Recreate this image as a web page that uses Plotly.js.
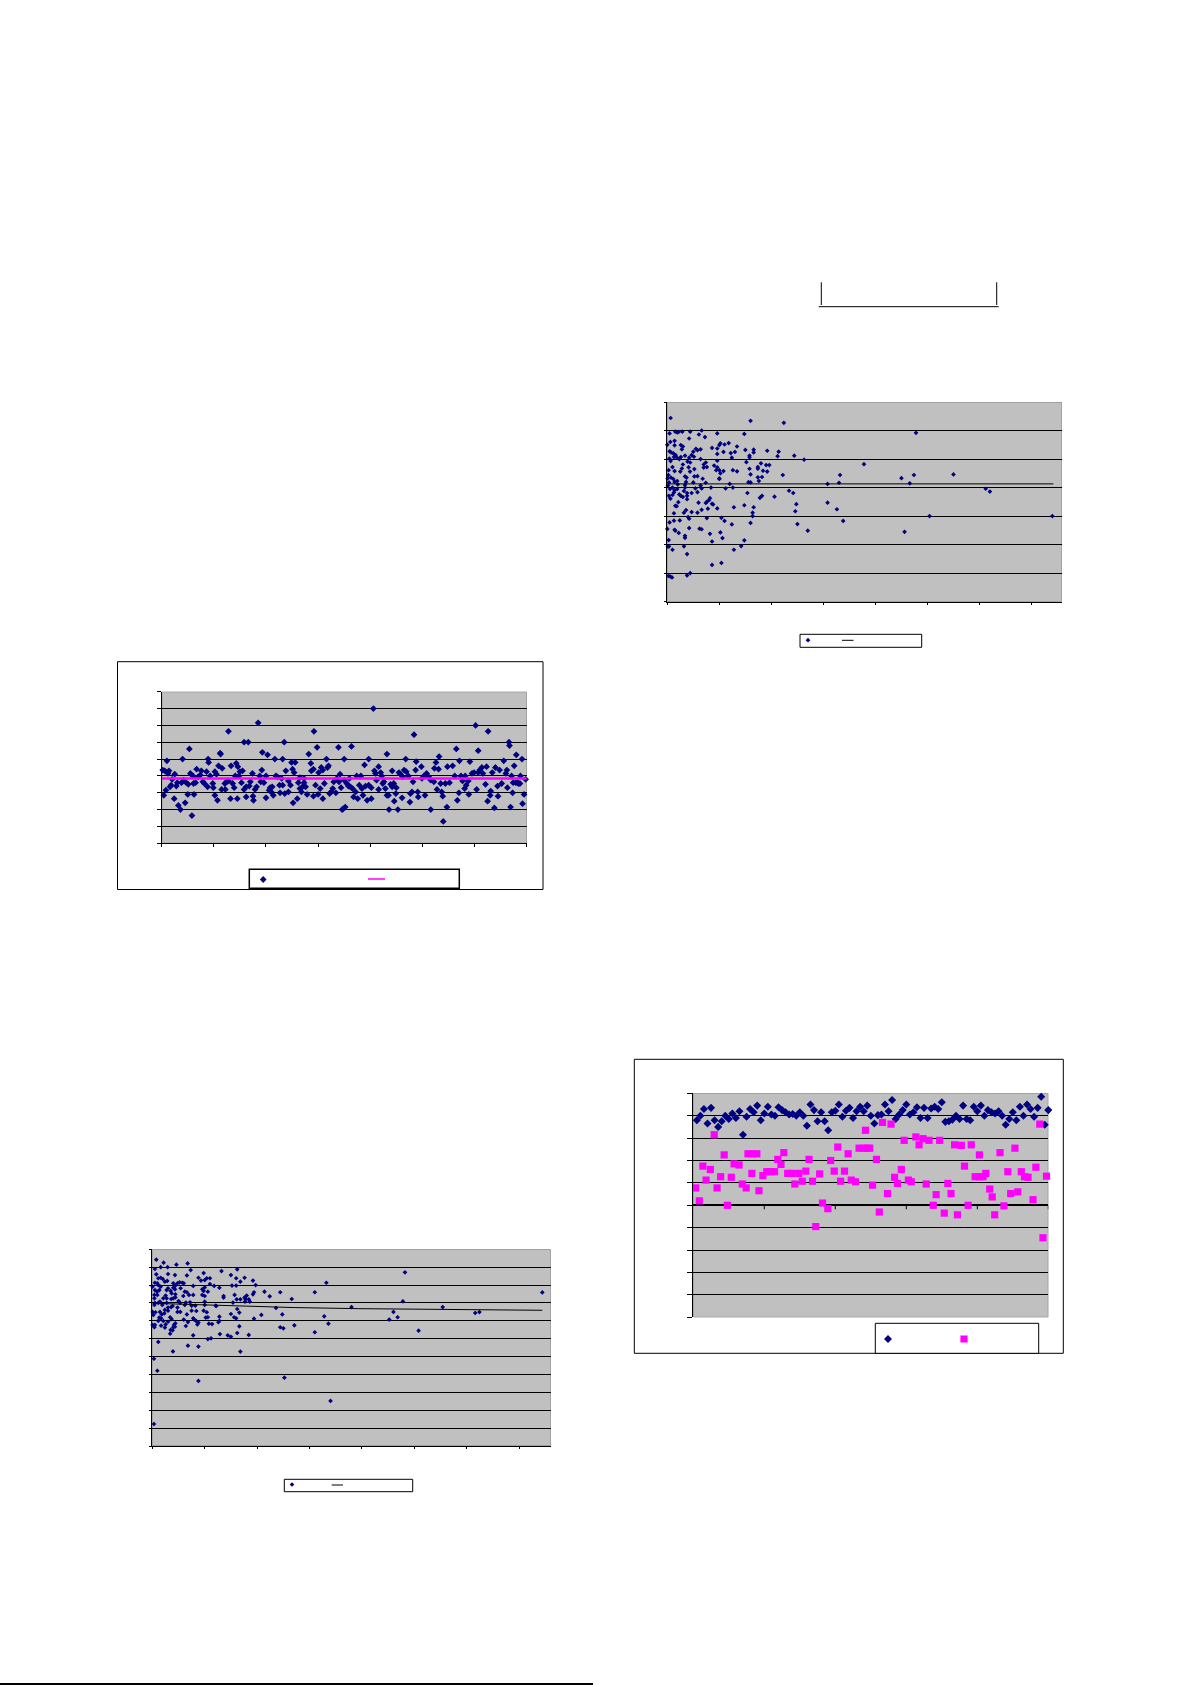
<!DOCTYPE html>
<html><head><meta charset="utf-8">
<script src="https://cdn.plot.ly/plotly-3.0.1.min.js"></script>
<style>html,body{margin:0;padding:0;background:#fff}</style></head>
<body><div id="chart" style="width:1191px;height:1685px"></div>
<script>
// Chart A (left, middle of page): observation number against value
const aX=[1,2,3,4,5,6,7,8,9,10,12,12.5,14,15,16,18,19,20,21,22.5,23.5,25,25.5,26.5,27.5,29,30,30.5,31,32.5,33.5,35,37,38,39.5,41,43,44,44.5,45,46.5,49,49.5,51,51,52.5,53.5,54.5,56,56.5,58,57.5,60.5,61,62.5,64,64,66,66.5,68,69.5,70.5,71.5,72.5,73,74,75,76.5,77.5,79,79,81,81,83,84,85,87,87.5,88,89.5,91,92.5,94,95,96,96.5,98,100,100,101.5,103,104,105,106,107,108.5,109.5,111,113,113.5,116,115,116,117.5,118,119,121.5,121.5,123.5,124.5,125.5,126,127,128,130,131,132.5,132.5,134,135,136.5,136.5,138,139.5,141,143,143.5,145.5,145.5,146,147.5,149,150,150.5,152,153,154.5,154.5,156,158,159,160,161,162.5,164,165,167,168,169.5,170,171,172,173,174,175,175,176,177.5,179,180,182,181,183,184,186,187,188,189.5,191,192,193,194.5,195.5,197,198.5,198.5,201,201,203,204,205,206,208,208,210,211,212,213,214.5,216,216,218,217.5,219.5,221,221,222.5,223,224.5,225,226.5,227.5,229,230.5,231,232.5,234,234.5,236.5,238,238.5,240,241,242,243.5,244,245.5,246,249,249.5,252.5,251.5,254,256,258,258,261,261.5,263,264,265.5,266,267.5,268.5,269.5,270,272,273.5,274,276,279,281,282.5,283.5,285,285.5,287,288.5,290.5,291,292,294,294.5,295.5,297.5,299.5,301,302,303.5,303.5,305,307,308,310.5,311.5,312.5,313,315,315.5,317,319,320,322,322.5,324,326,328,330,331,331.5,333,333.5,334.5,335.5,336.5,338,337,340,339.5,341,342,343.5,344,345.5,346,347.5,349];
const aY=[4.35,2.85,4.3,3.15,4.9,4.15,4.3,3.35,3.45,3.8,2.65,4.1,3.4,3.6,2.25,2,3.6,5,3.75,2.4,3.6,2.9,3.5,5.6,4.15,1.65,4,3.55,2.9,3.6,4.4,3.95,4.05,4.3,3.65,3.55,4.25,3.35,5,4.8,4,3.55,3.3,4.25,2.85,4.1,2.55,4.6,5.35,5.3,4.45,3.2,3.55,3.2,3.65,6.65,3.7,2.65,4.6,3.55,3.3,4,4.75,2.65,4.55,4,4.25,3.6,4.3,6,3.2,2.75,3.35,6,3.4,3.65,4.15,2.8,2.55,3.2,3.35,7.15,4,3.65,4.35,5.4,3.6,4,2.7,5.25,3.15,3.3,3.05,3.35,2.85,5,4,3.95,3.45,3,5,3.85,3.45,6,2.95,4.3,3.05,3.7,3.45,4.8,4.4,2.4,4.2,4.8,2.65,3.6,3.9,3.25,3.05,3.35,3.85,3.6,3.35,2.9,5.3,4.75,4.3,2.8,4.4,6.65,3.45,5.7,2.9,4.2,3.25,4.5,4.35,2.65,3.55,5,4.5,4.6,2.95,3.05,3.25,3.65,3,3.85,5.7,3.65,4.1,3.3,2,2.05,5,3.75,2.15,3.55,3.4,3.85,5.75,3.35,3.25,2.75,3.05,4,2.65,3.45,4,3.25,2.85,4.65,3.4,2.55,5,3.45,2.65,3.3,8,4.3,4.15,3.75,4.55,3.2,4.2,4,3.55,3.65,3.25,5.3,2.85,2,2.85,3.5,4.3,3.35,3.55,2.5,2.95,3.3,2,4.2,4.1,2.7,3.95,4.35,5,4.25,4,2.45,2.95,3.05,3.65,6.45,4.35,4.85,3.05,2.75,4.55,3.85,2.85,4,4.15,3.95,2,3.75,3.65,4.45,4.8,3.2,4.4,5.15,3.55,3.05,2.8,1.3,3.55,2.15,4.55,3.6,4.6,4,5.6,2.55,3,4.9,4,3.7,3.25,4,3.45,3.7,2.9,4.85,4.15,4.2,7,3.2,5.5,4.2,4.35,4.5,4.15,3.5,4.55,2.5,6.65,2.85,3.1,4.2,2.1,4.5,3.4,2.8,4.35,3.55,4.9,4.15,4.35,3.3,6,5.8,2.15,4,3,4.6,3.6,5.25,3.6,3.6,3.55,3.55,4,5,2.35,2.9,3.8];
const aLineX=[0,350];
const aLineY=[3.85,3.85];

// Chart B (right, top of page)
const bX=[3.2,80,112,2.2,7.7,9.6,10.9,14.4,22,33,30.4,36.2,48,21,74,2.9,7,0,7,13,15,14,2.2,3.8,5.8,27.5,29,32,25,23.4,43,48,50,51,55,59,67,54,61,65,48,75,83,83,79,79,96,107,106,122,131.5,62,2,8,6.4,9.3,3.2,11.5,13,17,21,25.6,32,19.5,22,15,14,5,12.5,7,1.3,20.5,21.8,26,35,37,38,35,45,48,48,47,50,54,51,63,67,76,79,80,87,87,90,95,98,92,96,111,166,189,225,237,275,1,0.3,3.5,5.8,1.6,7,9.5,17,18.5,26,29,34,18,25,37,10,17,0.6,32,42,60,50,50,87,91,78,80,88,154,165,233,56,63,17,5,2.6,7,9.5,27,33,29,6.4,16,19,23.4,1.6,5,11.5,13,19,15,3,19,117,121,77,91,89,103,306,310,10.6,7.7,9,30,41,40,38,37,43,44,124,154,74,83,64,48,39,33,163,18,23.4,16,29,6.4,82,123,20,21,38,52,82,252,12,6.4,2.2,55,80,62,125,169,21,31,33,7,7.7,0,11,135,51,41,17,17,53,228,1.3,43,74,0.6,1.6,16,71,5,64,19,43,52,22,19,1,2.6,4.5,370,239];
const bY=[6.44,6.34,6.27,5.9,5.96,5.93,5.95,5.96,5.96,6,5.86,5.77,5.9,5.72,5.88,5.6,5.64,5.5,5.48,5.49,5.44,5.34,5.27,5.23,5.2,5.36,5.31,5.34,5.26,5.14,5.39,5.37,5.49,5.55,5.51,5.56,5.44,5.25,5.21,5.25,5.18,5.32,5.33,5.23,5.12,5.06,5.29,5.26,5.1,5.12,4.98,5.05,5.02,5.14,5.07,5.05,4.93,5,5.07,5.12,5.05,5.08,5,4.91,4.88,4.81,4.67,4.72,4.56,4.58,4.61,4.71,4.56,4.65,4.81,4.88,4.72,4.7,4.77,4.94,4.71,4.61,4.61,4.58,4.5,4.61,4.57,4.89,4.66,4.46,4.72,4.66,4.85,4.79,4.79,4.59,4.56,4.44,4.44,4.82,4.33,4.44,4.46,4.44,4.32,4.35,4.3,4.18,4.2,4.23,4.39,4.35,4.39,4.4,4.31,4.2,4.18,4.17,4.11,4.09,4.07,4.07,4,4.13,4.3,4.32,4.36,4.37,4.19,4.18,4.23,4.13,4.17,4.15,3.97,4,4,4,3.95,3.91,3.95,3.97,3.97,3.84,3.83,3.88,3.81,3.81,3.71,3.74,3.76,3.71,3.71,3.67,3.61,3.59,3.89,3.81,3.81,3.71,3.64,3.68,3.96,3.86,3.49,3.36,3.35,3.47,3.63,3.56,3.5,3.46,3.43,3.41,3.42,3.47,3.38,3.31,3.31,3.27,3.26,3.22,3.24,3.21,3.14,3.12,3.12,3.1,3.12,3.17,2.97,2.91,2.93,2.94,3,3,2.85,2.84,2.78,2.83,2.76,2.71,2.72,2.83,2.58,2.56,2.54,2.52,2.49,2.55,2.41,2.49,2.43,2.38,2.31,2.24,2.23,2.45,2.16,2.11,2.15,1.93,1.94,1.94,1.95,1.82,1.82,1.67,1.29,1.36,1,0.92,0.9,0.89,0.85,3,5.92];
const bLineX=[0,371];
const bLineY=[4.13,4.13];

// Chart C (left, bottom of page)
const cX=[3.8,10.8,23,33.7,2.5,8,14.6,36.6,81,66,3.8,15,21.6,33,49,75,80,88,241,5.7,8,10,44,46.4,50,52,55,84,96,2.5,4.8,12,14.3,20,24,26,28.6,30,55,166,0.3,5.7,8,15,20,22,27,39,50,59,64,76,80,98.6,2.5,4.5,6.7,13.7,17.5,21.6,31,33,47.7,53,49,107,122,155,97,96,2,4.8,12.7,18.4,22,29.6,35,39,47.7,50,68,78.5,90,112,2,10.5,13.7,20,22,18,68,80.5,84,89,92,88,133,2.5,7.3,13.7,25,32,36,50,77,88.4,93,239,2,5.7,9.5,26.5,31,37.5,41,50,60.5,19.4,15,18,24,118,190,277,81,12,0.3,3,7.3,15,24,26.7,37.5,42,49,52,1,9,11.5,33,61,83,75,124,104,230,312,308,164,234,6.7,8.4,17,39,18.4,30,51,53,64,78,80,97,226,5.7,10.5,15,34,40,41.7,64,63,44,54,57,0.3,2.5,12.7,8.4,22,20.7,32,43,83,135.5,168,2,12,20,21.6,17.5,19.4,122,125,155,254,17,64.5,81,39,72,75,92,53,56,5.7,34,44,19.7,84,1.6,4.8,126,44,170,1.6,372];
const cY=[10.42,10.25,10.14,10.21,9.9,10,10,9.84,9.88,9.78,9.6,9.62,9.56,9.54,9.67,9.56,9.38,9.41,9.71,9.38,9.41,9.34,9.41,9.25,9.28,9.38,9.38,9.19,9.25,9.13,9.1,9.19,9.23,9.1,9.1,9.15,9.13,9.1,9.06,9.13,8.91,9,8.91,8.82,8.85,8.97,8.82,8.95,8.87,8.95,8.85,8.97,8.97,9,8.72,8.63,8.72,8.72,8.67,8.76,8.63,8.6,8.76,8.63,8.67,8.63,8.6,8.6,8.6,8.48,8.45,8.45,8.41,8.54,8.48,8.39,8.45,8.45,8.45,8.39,8.39,8.45,8.41,8.37,8.26,8.26,8.26,8.26,8.31,8.22,8.3,8.2,8.2,8.2,8.2,8.3,8.22,8,8.07,8,8.11,8.02,8.04,8.07,8.02,8.07,8.07,8.09,7.89,8,7.89,8,7.89,7.85,7.85,7.89,7.85,7.83,7.74,7.77,7.74,7.72,7.77,7.77,7.66,7.61,7.5,7.48,7.5,7.57,7.5,7.5,7.57,7.55,7.57,7.48,7.33,7.36,7.42,7.36,7.83,7.46,7.38,7.36,7.33,7.5,7.49,7.44,7.25,7.2,7.18,7.14,7.2,7.14,7.1,7.07,7.18,7.2,7.23,7.2,7.14,7.12,7.07,7,6.99,6.95,6.93,7.07,7,7,6.92,6.9,6.84,6.82,6.77,6.77,6.8,6.73,6.86,6.77,6.71,6.8,6.69,6.75,6.84,6.64,6.62,6.64,6.67,6.49,6.47,6.64,6.58,6.36,6.45,6.28,6.26,6.32,6.19,6.19,6.11,6.21,5.98,6.02,5.82,5.61,5.56,5.29,5.28,4.88,4.21,3.82,3.64,2.52,1.23,8.59];
const cLineX=[0,22,95,136,197,292,356,372];
const cLineY=[7.98,7.94,7.79,7.74,7.68,7.62,7.59,7.59];

// Chart D (right, bottom of page)
const dBlueX=[1,2,3,4,5,6,7,8,9,10,11,12,13,14,15,16,17,18,19,20,21,22,23,24,25,26,27,28,29,30,31,32,33,34,35,36,37,38,39,40,41,42,43,44,45,46,47,48,49,50,51,52,53,54,55,56,57,58,59,60,61,62,63,64,65,66,67,68,69,70,71,72,73,74,75,76,77,78,79,80,81,82,83,84,85,86,87,88,89,90,91,92,93,94,95,96,97,98,99,100];
const dBlueY=[.76,.8,.86,.73,.87,.76,.7,.75,.8,.77,.82,.78,.84,.63,.79,.86,.83,.89,.76,.82,.88,.81,.8,.875,.85,.83,.81,.815,.8,.83,.8,.71,.9,.85,.75,.83,.75,.67,.83,.845,.9,.79,.845,.87,.78,.84,.88,.84,.89,.8,.73,.805,.81,.9,.84,.94,.77,.81,.85,.9,.81,.83,.875,.78,.87,.78,.865,.88,.86,.92,.745,.75,.765,.8,.77,.89,.77,.76,.88,.84,.89,.8,.85,.83,.82,.84,.8,.72,.77,.83,.76,.88,.8,.9,.86,.79,.87,.97,.72,.85];
const dPinkX=[.7,1.7,2.7,3.6,4.8,5.9,6.7,7.7,8.7,9.6,10.7,11.5,12.9,13.8,14.9,15.4,16.6,17.9,16.5,18.5,19.6,20.7,21.8,22.9,23.8,24.7,25.5,26.6,27.7,28.6,29.7,30.7,31.7,32.6,33.6,34.5,35.6,36.4,37.9,38.7,39.7,40.7,41.5,42.6,43.6,44.5,45.7,46.7,47.9,49,48.5,49.7,50.5,51.6,52.4,53.3,54.7,55.7,56.7,57.5,58.6,59.4,60.6,61.4,62.7,63.6,64.7,65.6,66.4,67.6,68.4,69.4,70.7,71.7,72.6,73.6,74.4,75.5,76.4,77.4,78.3,79.4,80.6,80.6,81.6,82.4,83.5,84.2,84.9,86.4,87.5,88.6,89.4,90.6,91.4,92.4,93.3,94.3,95.7,96.5,97.6,98.5,99.5];
const dPinkY=[.155,.04,.35,.225,.32,.63,.155,.255,.45,0,.25,.37,.36,.19,.155,.46,.46,.46,.285,.13,.265,.3,.3,.3,.41,.365,.47,.285,.285,.19,.285,.215,.305,.41,.215,-.19,.28,.02,-.03,.4,.305,.52,.215,.305,.46,.225,.21,.51,.51,.51,.67,.51,.18,.41,-.06,.74,.105,.725,.25,.195,.32,.58,.225,.21,.61,.54,.595,.19,.58,0,.095,.58,-.07,.195,.105,.54,-.085,.535,.35,0,.54,.255,.45,.255,.255,.285,.145,.075,-.085,.47,-.005,.3,.105,.51,.12,.3,.255,.25,.05,.34,.725,-.29,.26];
const dTicks=[20,40,60,80,100];

const W=1191,H=1685;
const NAVY='#000080',PINK='#ff00ff',GREY='#c0c0c0',EDGE='#808080';
const px=x=>x/W, py=y=>1-y/H;
function xAxis(l,r,range,dtick,line,anchor,tl){return {anchor:anchor,domain:[px(l),px(r)],range:range,dtick:dtick,tick0:0,showticklabels:false,showgrid:false,zeroline:false,showline:line,linecolor:'#000',linewidth:1,ticks:line?'outside':'',ticklen:tl,tickcolor:'#000',tickwidth:1,fixedrange:true};}
function yAxis(t,b,range,dtick,tick0,anchor,tl,zero){return {anchor:anchor,domain:[py(b),py(t)],range:range,dtick:dtick,tick0:tick0,showticklabels:false,showgrid:true,gridcolor:'#000',gridwidth:1,zeroline:!!zero,zerolinecolor:'#000',zerolinewidth:2,showline:true,linecolor:'#000',linewidth:1,ticks:'outside',ticklen:tl,tickcolor:'#000',tickwidth:1,fixedrange:true};}

const traces=[
 {x:aX,y:aY,xaxis:'x',yaxis:'y',mode:'markers',name:' ',legend:'legend',cliponaxis:false,marker:{symbol:'diamond',size:5.2,color:NAVY}},
 {x:aLineX,y:aLineY,xaxis:'x',yaxis:'y',mode:'lines',showlegend:false,cliponaxis:false,line:{color:PINK,width:2.5}},
 {x:bX,y:bY,xaxis:'x2',yaxis:'y2',mode:'markers',name:' ',legend:'legend2',cliponaxis:false,marker:{symbol:'diamond',size:3.6,color:NAVY}},
 {x:bLineX,y:bLineY,xaxis:'x2',yaxis:'y2',mode:'lines',showlegend:false,line:{color:'#000',width:1}},
 {x:cX,y:cY,xaxis:'x3',yaxis:'y3',mode:'markers',name:' ',legend:'legend3',cliponaxis:false,marker:{symbol:'diamond',size:3.6,color:NAVY}},
 {x:cLineX,y:cLineY,xaxis:'x3',yaxis:'y3',mode:'lines',showlegend:false,line:{color:'#000',width:1}},
 {x:dBlueX,y:dBlueY,xaxis:'x4',yaxis:'y4',mode:'markers',name:' ',legend:'legend4',cliponaxis:false,marker:{symbol:'diamond',size:6.2,color:NAVY}},
 {x:dPinkX,y:dPinkY,xaxis:'x4',yaxis:'y4',mode:'markers',name:' ',legend:'legend4',cliponaxis:false,marker:{symbol:'square',size:7.2,color:PINK}}
];
function box(l,t,r,b,w,fill,layer){return {type:'rect',xref:'paper',yref:'paper',x0:px(l),x1:px(r),y0:py(b),y1:py(t),line:{color:'#000',width:w},fillcolor:fill||'rgba(0,0,0,0)',layer:layer||'below'};}
function seg(x0,y0,x1,y1,w,c){return {type:'line',xref:'paper',yref:'paper',x0:px(x0),x1:px(x1),y0:py(y0),y1:py(y1),line:{color:c||'#000',width:w}};}
function edge(xr,yr,x0,x1,y0,y1){return {type:'rect',xref:xr,yref:yr,x0:x0,x1:x1,y0:y0,y1:y1,line:{color:EDGE,width:1},fillcolor:'rgba(0,0,0,0)',layer:'below'};}
const shapes=[
 box(117.5,661.7,543,889.5,1),box(634.3,1059.3,1063.3,1353.3,1),
 box(249.3,869.3,459.3,888.3,1.5,'#fff'),box(800,634.3,921.7,647.3,1,'#fff'),
 box(284.3,1479.3,412.7,1491.7,1,'#fff'),box(875.3,1323.3,1038.7,1353.3,1,'#fff'),
 edge('x','y',0,350,0,9),edge('x2','y2',0,379,0,7),edge('x3','y3',0,380,0,11),edge('x4','y4',0,100,-1,1),
 seg(821.3,282.3,821.3,305,1),seg(996.7,282.3,996.7,305,1),seg(818.7,306.7,998.7,306.7,1),
 seg(0,1684,593,1684,2),
 seg(368,879,385,879,1.5,PINK),seg(842,640.3,853.5,640.3,1),seg(331.7,1485,343,1485,1)
].concat(dTicks.map(t=>({type:'line',xref:'x4',yref:'y4',x0:t,x1:t,y0:0,y1:-0.035,line:{color:'#000',width:1}})));

function legendAt(l,t,ew){return {x:px(l),y:py(t),xanchor:'left',yanchor:'top',orientation:'h',bgcolor:'rgba(0,0,0,0)',borderwidth:0,entrywidth:ew,entrywidthmode:'pixels',font:{size:8,color:'#fff',family:'Liberation Sans'},itemclick:false,itemdoubleclick:false};}
const layout={width:W,height:H,margin:{l:0,r:0,t:0,b:0,pad:0},paper_bgcolor:'#fff',plot_bgcolor:GREY,showlegend:true,
 xaxis:xAxis(161.7,526.7,[0,350],50,true,'y',3),yaxis:yAxis(691.7,843.3,[0,9],1,0,'x',4),
 xaxis2:xAxis(667.3,1061.7,[0,379],50,true,'y2',2),yaxis2:yAxis(402,601.7,[0,7],1,0,'x2',2),
 xaxis3:xAxis(152.3,550.7,[0,380],50,true,'y3',2),yaxis3:yAxis(1249.3,1446,[0,11],1,0,'x3',2),
 xaxis4:xAxis(693.3,1048.3,[0,100],20,false,'y4',0),yaxis4:yAxis(1093.3,1317.3,[-1,1],0.2,-1,'x4',5,true),
 legend:legendAt(243.2,865,40),legend2:legendAt(788,625.7,40),legend3:legendAt(272,1470,40),legend4:legendAt(868,1324.5,31),
 shapes:shapes};
traces.forEach(t=>{t.hoverinfo='skip';});
Plotly.newPlot('chart',traces,layout,{displayModeBar:false,staticPlot:true});
</script></body></html>
